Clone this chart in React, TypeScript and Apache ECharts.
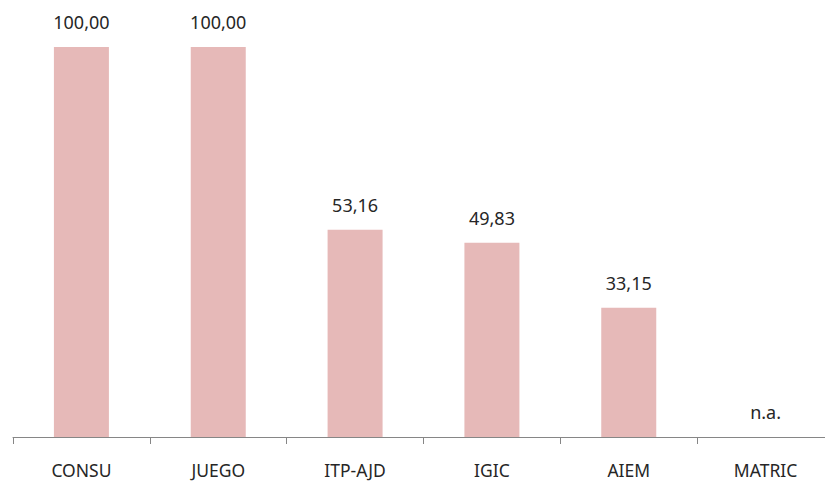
import React, { useEffect, useRef } from "react";
import * as echarts from "echarts";

const categories = ["CONSU", "JUEGO", "ITP-AJD", "IGIC", "AIEM", "MATRIC"];
const values = [100.0, 100.0, 53.16, 49.83, 33.15, 0];
const available = [true, true, true, true, true, false];

export default function App() {
  const ref = useRef<HTMLDivElement>(null);
  useEffect(() => {
    if (!ref.current) return;
    const chart = echarts.init(ref.current, null, { renderer: "svg" });
    chart.setOption({
      animation: false,
      grid: { left: 13, right: 0, top: 47, bottom: 49, containLabel: false },
      xAxis: {
        type: "category",
        data: categories,
        axisLine: { lineStyle: { color: "#868686", width: 1 } },
        axisTick: { show: true, length: 7, lineStyle: { color: "#868686" } },
        axisLabel: { color: "#262626", fontSize: 17.5, fontFamily: "Noto Sans", margin: 24, interval: 0 },
      },
      yAxis: {
        type: "value",
        min: 0,
        max: 100,
        show: false,
        splitLine: { show: false },
      },
      series: [
        {
          type: "bar",
          data: values,
          barWidth: 55,
          itemStyle: { color: "#E6B9B8" },
          label: {
            show: true,
            position: "top",
            distance: 16,
            color: "#262626",
            fontSize: 18,
            fontFamily: "Noto Sans",
            formatter: (p: any) =>
              available[p.dataIndex] ? Number(p.value).toFixed(2).replace(".", ",") : "n.a.",
          },
        },
      ],
    });
    return () => chart.dispose();
  }, []);
  return (
    <div style={{ position: "absolute", left: 0, top: 0, width: 825, height: 486, overflow: "hidden" }}>
      <div ref={ref} style={{ width: 834, height: 486 }} />
    </div>
  );
}
